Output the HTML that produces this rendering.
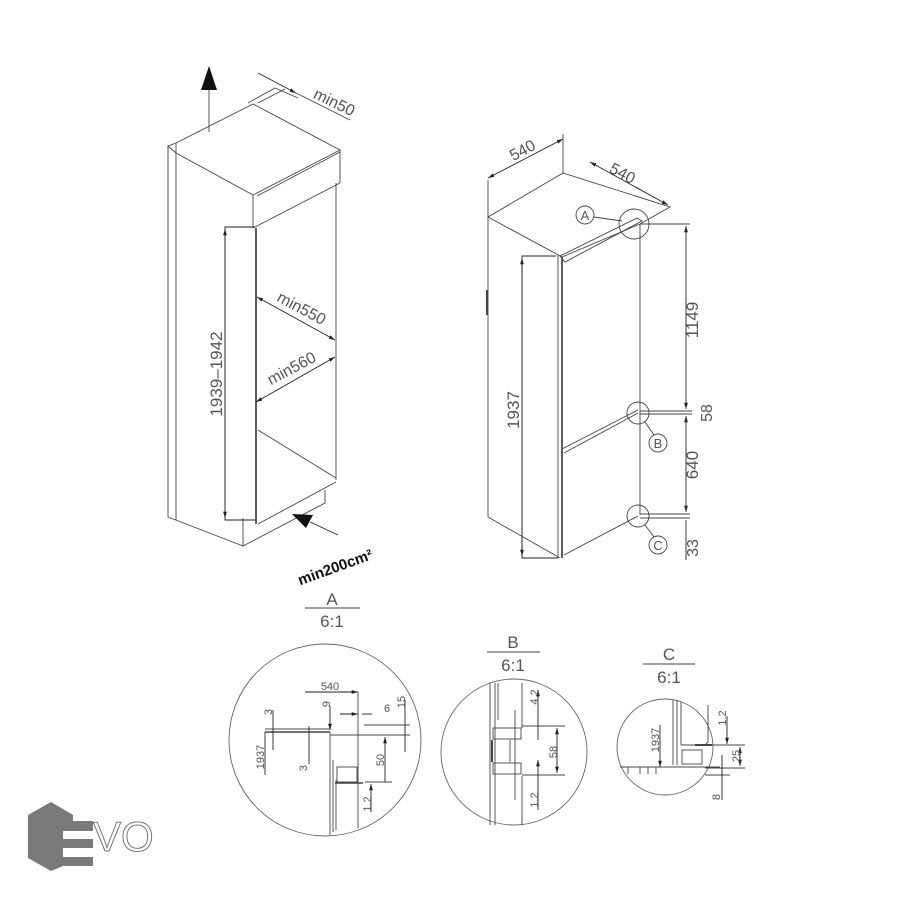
<!DOCTYPE html>
<html><head><meta charset="utf-8"><style>
html,body{margin:0;padding:0;background:#fff}
svg{display:block}
text{font-family:"Liberation Sans",sans-serif;fill:#555}
</style></head><body>
<svg width="900" height="900" viewBox="0 0 900 900" xmlns="http://www.w3.org/2000/svg">
<defs>
<marker id="ar" viewBox="0 0 10 10" refX="10" refY="5" markerWidth="7" markerHeight="7" orient="auto-start-reverse"><path d="M0,2 L10,5 L0,8z" fill="#222"/></marker>
</defs>
<g fill="none" stroke="#444" stroke-width="0.9">
<!-- LEFT CABINET -->
<line x1="209" y1="132" x2="209" y2="88"/>
<polygon points="209,66 201,90 217,90" fill="#111" stroke="none"/>
<polygon points="168,146 176,143 253,104 340,150 253,195 176,153"/>
<line x1="176" y1="143" x2="176" y2="153"/>
<polyline points="168,146 168,517 243,546"/>
<line x1="176" y1="153" x2="176" y2="520"/>
<line x1="253" y1="195" x2="253" y2="228"/>
<line x1="340" y1="150" x2="340" y2="183"/>
<line x1="253" y1="228" x2="340" y2="183"/>
<line x1="257" y1="196" x2="340" y2="152"/>
<line x1="336" y1="183" x2="336" y2="480"/>
<line x1="256" y1="228" x2="256" y2="524" stroke-width="1.6" stroke="#333"/>
<line x1="258" y1="430" x2="336" y2="478"/>
<line x1="258" y1="524" x2="336" y2="482"/>
<polyline points="243,518 243,546 325,503 325,490"/>
<polyline points="248,103 275,88 298,98"/>
<line x1="258" y1="103" x2="285" y2="89"/>
<!-- dims -->
<polyline points="255,227 225,227 225,520 255,520" stroke="#222"/>
<line x1="225" y1="229" x2="225" y2="518" stroke="#222" marker-start="url(#ar)" marker-end="url(#ar)"/>
<line x1="257" y1="297" x2="335" y2="340" stroke="#222" marker-start="url(#ar)" marker-end="url(#ar)"/>
<line x1="256" y1="402" x2="335" y2="357" stroke="#222" marker-start="url(#ar)" marker-end="url(#ar)"/>
<line x1="258" y1="73" x2="296" y2="93" stroke="#222" marker-end="url(#ar)"/>
<line x1="296" y1="93" x2="350" y2="120" stroke="#444"/>
<line x1="338" y1="535" x2="310" y2="522" stroke="#222"/>
<polygon points="292,514 313,515 306,528" fill="#111" stroke="none"/>

<!-- RIGHT FRIDGE -->
<polygon points="488,217 563,173 670,207 640,224 562,257"/>
<line x1="488" y1="217" x2="488" y2="517"/>
<line x1="488" y1="517" x2="560" y2="558"/>
<line x1="562" y1="257" x2="562" y2="558" stroke-width="1.6" stroke="#333"/>
<line x1="558" y1="255" x2="558" y2="558"/>
<line x1="640" y1="224" x2="640" y2="515"/>
<polygon points="560,256 637,218 642,221 565,262"/>
<line x1="564" y1="453" x2="638" y2="413"/>
<line x1="562" y1="449" x2="638" y2="410"/>
<line x1="564" y1="555" x2="638" y2="516"/>
<line x1="487" y1="290" x2="487" y2="315" stroke-width="2"/>
<!-- 540 dims -->
<line x1="488" y1="178" x2="563" y2="139" stroke="#222" marker-start="url(#ar)" marker-end="url(#ar)"/>
<line x1="488" y1="180" x2="488" y2="217"/>
<line x1="563" y1="134" x2="563" y2="173"/>
<line x1="590" y1="162" x2="668" y2="205" stroke="#222" marker-start="url(#ar)" marker-end="url(#ar)"/>
<!-- right vertical dims -->
<line x1="640" y1="224" x2="690" y2="224"/>
<line x1="640" y1="411" x2="692" y2="411"/>
<line x1="640" y1="414" x2="692" y2="414"/>
<line x1="640" y1="514" x2="690" y2="514"/>
<line x1="640" y1="518" x2="690" y2="518"/>
<line x1="686" y1="226" x2="686" y2="409" stroke="#222" marker-start="url(#ar)" marker-end="url(#ar)"/>
<line x1="686" y1="416" x2="686" y2="512" stroke="#222" marker-start="url(#ar)" marker-end="url(#ar)"/>
<line x1="686" y1="520" x2="686" y2="560" stroke="#222"/>
<polyline points="556,256 522,256 522,558 558,558" stroke="#222"/>
<line x1="522" y1="258" x2="522" y2="556" stroke="#222" marker-start="url(#ar)" marker-end="url(#ar)"/>
<!-- circles -->
<circle cx="634" cy="224" r="15"/>
<circle cx="585" cy="215" r="9"/>
<line x1="594" y1="217" x2="622" y2="221"/>
<circle cx="638" cy="413" r="11"/>
<circle cx="658" cy="443" r="9"/>
<line x1="645" y1="422" x2="654" y2="435"/>
<circle cx="638" cy="516" r="11"/>
<circle cx="658" cy="545" r="9"/>
<line x1="645" y1="525" x2="654" y2="537"/>

<!-- DETAIL A -->
<line x1="305" y1="608" x2="360" y2="608"/>
<circle cx="325" cy="740" r="96" stroke="#666"/>
<line x1="265" y1="732" x2="330" y2="732" stroke-width="1.5"/>
<line x1="265" y1="729" x2="330" y2="729"/>
<line x1="330" y1="732" x2="330" y2="835"/>
<line x1="333" y1="760" x2="333" y2="832"/>
<line x1="336" y1="780" x2="336" y2="830"/>
<rect x="337" y="767" width="20" height="15"/>
<line x1="335" y1="783" x2="363" y2="783" stroke-width="1.5"/>
<line x1="358" y1="692" x2="358" y2="828"/>
<line x1="305" y1="692" x2="358" y2="692" stroke="#222" marker-end="url(#ar)"/>
<line x1="340" y1="714" x2="358" y2="714" stroke="#222" marker-end="url(#ar)"/>
<line x1="362" y1="714" x2="372" y2="714" stroke="#222"/>
<line x1="364" y1="725" x2="410" y2="725"/>
<line x1="330" y1="735" x2="410" y2="735"/>
<line x1="405" y1="700" x2="405" y2="752" stroke="#222"/>
<line x1="385" y1="737" x2="385" y2="782" stroke="#222" marker-start="url(#ar)"/>
<line x1="365" y1="782" x2="392" y2="782"/>
<line x1="371" y1="784" x2="371" y2="812" stroke="#222" marker-start="url(#ar)"/>
<line x1="330" y1="706" x2="330" y2="730" stroke="#222" marker-end="url(#ar)"/>
<line x1="273" y1="710" x2="273" y2="750" stroke="#222"/>
<line x1="309" y1="726" x2="309" y2="764" stroke="#222"/>
<line x1="265" y1="732" x2="265" y2="775" stroke="#222"/>
<!-- DETAIL B -->
<line x1="487" y1="652" x2="540" y2="652"/>
<circle cx="514" cy="752" r="73" stroke="#666"/>
<line x1="490" y1="683" x2="490" y2="825"/>
<line x1="495" y1="683" x2="495" y2="825"/>
<line x1="498" y1="683" x2="498" y2="720"/>
<line x1="522" y1="683" x2="522" y2="728"/>
<line x1="522" y1="776" x2="522" y2="825"/>
<rect x="493" y="728" width="28" height="11"/>
<rect x="493" y="763" width="28" height="11"/>
<line x1="510" y1="740" x2="510" y2="762"/>
<line x1="515" y1="710" x2="515" y2="800"/>
<line x1="492" y1="740" x2="492" y2="762" stroke-width="2"/>
<line x1="522" y1="726" x2="565" y2="726"/>
<line x1="522" y1="775" x2="565" y2="775"/>
<line x1="557" y1="728" x2="557" y2="773" stroke="#222" marker-start="url(#ar)" marker-end="url(#ar)"/>
<line x1="538" y1="690" x2="538" y2="740" stroke="#222" marker-start="url(#ar)"/>
<line x1="538" y1="760" x2="538" y2="810" stroke="#222" marker-start="url(#ar)"/>
<!-- DETAIL C -->
<line x1="643" y1="664" x2="695" y2="664"/>
<circle cx="665" cy="747" r="48" stroke="#666"/>
<line x1="673" y1="700" x2="673" y2="765"/>
<line x1="677" y1="700" x2="677" y2="765"/>
<line x1="681" y1="702" x2="681" y2="745"/>
<polyline points="681,745 705,745 708,742 708,705"/>
<rect x="682" y="750" width="20" height="14"/>
<line x1="695" y1="745" x2="712" y2="745" stroke-width="2"/>
<line x1="620" y1="767" x2="720" y2="767"/>
<line x1="628" y1="767" x2="628" y2="774"/>
<line x1="640" y1="767" x2="640" y2="774"/>
<line x1="648" y1="767" x2="648" y2="774"/>
<line x1="656" y1="767" x2="656" y2="774"/>
<line x1="660" y1="725" x2="660" y2="767" stroke="#222" marker-end="url(#ar)"/>
<line x1="705" y1="745" x2="745" y2="745"/>
<line x1="705" y1="768" x2="745" y2="768"/>
<line x1="740" y1="747" x2="740" y2="766" stroke="#222" marker-start="url(#ar)" marker-end="url(#ar)"/>
<line x1="727" y1="716" x2="727" y2="744" stroke="#222" marker-end="url(#ar)"/>
<line x1="705" y1="775" x2="730" y2="775"/>
<line x1="722" y1="755" x2="722" y2="800" stroke="#222"/>
</g>

<!-- TEXT -->
<text transform="translate(222,374) rotate(-90)" font-size="17" text-anchor="middle">1939–1942</text>
<text transform="translate(299,313) rotate(28)" font-size="16" text-anchor="middle">min550</text>
<text transform="translate(294,373) rotate(-28)" font-size="16" text-anchor="middle">min560</text>
<text transform="translate(332,107) rotate(26)" font-size="16" text-anchor="middle">min50</text>
<text transform="translate(337,572) rotate(-20)" font-size="15" font-weight="bold" text-anchor="middle" style="fill:#111">min200cm²</text>

<text transform="translate(525,155) rotate(-28)" font-size="16" text-anchor="middle">540</text>
<text transform="translate(620,178) rotate(28)" font-size="16" text-anchor="middle">540</text>
<text transform="translate(519,410) rotate(-90)" font-size="17" text-anchor="middle">1937</text>
<text transform="translate(698,320) rotate(-90)" font-size="17" text-anchor="middle">1149</text>
<text transform="translate(712,413) rotate(-90)" font-size="16" text-anchor="middle">58</text>
<text transform="translate(698,465) rotate(-90)" font-size="17" text-anchor="middle">640</text>
<text transform="translate(698,548) rotate(-90)" font-size="16" text-anchor="middle">33</text>
<text x="585" y="220" font-size="13" text-anchor="middle">A</text>
<text x="658" y="448" font-size="13" text-anchor="middle">B</text>
<text x="658" y="550" font-size="13" text-anchor="middle">C</text>

<text x="332" y="605" font-size="17" text-anchor="middle">A</text>
<text x="332" y="627" font-size="17" text-anchor="middle">6:1</text>
<text x="513" y="648" font-size="17" text-anchor="middle">B</text>
<text x="513" y="671" font-size="17" text-anchor="middle">6:1</text>
<text x="669" y="660" font-size="17" text-anchor="middle">C</text>
<text x="669" y="683" font-size="17" text-anchor="middle">6:1</text>

<g font-size="11">
<text x="330" y="690" text-anchor="middle">540</text>
<text transform="translate(272,712) rotate(-90)" text-anchor="middle">3</text>
<text transform="translate(330,704) rotate(-90)" text-anchor="middle">9</text>
<text x="384" y="712">6</text>
<text transform="translate(405,702) rotate(-90)" text-anchor="middle">15</text>
<text transform="translate(264,757) rotate(-90)" text-anchor="middle">1937</text>
<text transform="translate(307,768) rotate(-90)" text-anchor="middle">3</text>
<text transform="translate(384,760) rotate(-90)" text-anchor="middle">50</text>
<text transform="translate(371,804) rotate(-90)" text-anchor="middle">1.2</text>
<text transform="translate(538,697) rotate(-90)" text-anchor="middle">4.2</text>
<text transform="translate(557,752) rotate(-90)" text-anchor="middle">58</text>
<text transform="translate(538,800) rotate(-90)" text-anchor="middle">1.2</text>
<text transform="translate(659,740) rotate(-90)" text-anchor="middle">1937</text>
<text transform="translate(726,718) rotate(-90)" text-anchor="middle">1.2</text>
<text transform="translate(740,756) rotate(-90)" text-anchor="middle">25</text>
<text transform="translate(720,797) rotate(-90)" text-anchor="middle">8</text>
</g>

<!-- EVO logo -->
<polygon points="51,802 63,809 63,866 51,871 28,858 28,815" fill="#7a7a7a"/>
<polygon points="63,809 73,815 73,821 63,821" fill="#7a7a7a"/>
<polygon points="63,860 73,860 73,858 63,866" fill="#7a7a7a"/>
<rect x="63" y="821" width="30" height="10" fill="#7a7a7a"/>
<rect x="63" y="839" width="30" height="9" fill="#7a7a7a"/>
<rect x="63" y="857" width="30" height="9" fill="#7a7a7a"/>
<text x="93" y="851" font-size="42" style="fill:#fff;stroke:#777;stroke-width:1">VO</text>
</svg>
</body></html>
